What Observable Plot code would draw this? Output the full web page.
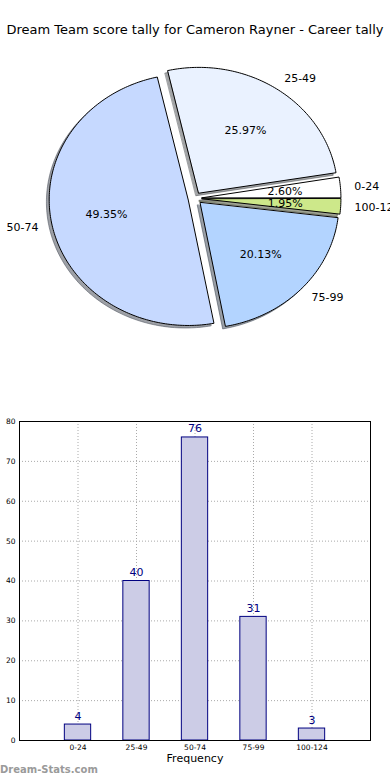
<!DOCTYPE html>
<html>
<head>
<meta charset="utf-8">
<script src="https://cdn.jsdelivr.net/npm/d3@7"></script>
<script src="https://cdn.jsdelivr.net/npm/@observablehq/plot@0.6"></script>
<style>
  html, body { margin: 0; padding: 0; background: #fff; overflow: hidden; }
  #wrap { position: relative; width: 390px; height: 780px; font-family: "DejaVu Sans", sans-serif; }
  #title { position: absolute; left: 0; top: 22px; width: 390px; text-align: center; font-size: 13px; line-height: 16px; color: #000; white-space: nowrap; }
  #pie { position: absolute; left: 0; top: 50px; }
  #bar { position: absolute; left: 0; top: 400px; }
  #mark { position: absolute; left: 0; top: 763px; font-size: 10px; font-weight: bold; color: #9a9a9a; line-height: 14px; }
  svg { overflow: hidden; }
</style>
</head>
<body>
<div id="wrap">
  <div id="title">Dream Team score tally for Cameron Rayner - Career tally</div>
  <div id="pie"></div>
  <div id="bar"></div>
  <div id="mark">Dream-Stats.com</div>
</div>
<script>
const categories = ["0-24", "25-49", "50-74", "75-99", "100-124"];
const counts = [4, 40, 76, 31, 3];
const sliceColors = ["#ffffff", "#eaf2ff", "#c6d9ff", "#b3d4ff", "#cde88a"];
const explode = [0.05, 0.05, 0.05, 0.05, 0.05];
const yTicks = [0, 10, 20, 30, 40, 50, 60, 70, 80];

// ---- pie geometry (unit circle, angles counter-clockwise from 3 o'clock) ----
const total = d3.sum(counts);
let start = 0;
const slices = categories.map((c, i) => {
  const a1 = start, a2 = start + counts[i] / total * 360;
  start = a2;
  const mid = (a1 + a2) / 2 * Math.PI / 180;
  const ox = explode[i] * Math.cos(mid), oy = explode[i] * Math.sin(mid);
  const col = d3.rgb(sliceColors[i]);
  const shadow = `rgb(${Math.round(col.r * 0.3)},${Math.round(col.g * 0.3)},${Math.round(col.b * 0.3)})`;
  return {c, i, a1, a2, mid, ox, oy, color: sliceColors[i], shadow,
    pct: (counts[i] / total * 100).toFixed(2) + "%",
    lx: ox + 1.1 * Math.cos(mid), ly: oy + 1.1 * Math.sin(mid),
    px: ox + 0.6 * Math.cos(mid), py: oy + 0.6 * Math.sin(mid)};
});
function wedge(s, dx, dy) {
  const pts = [{slice: s.c, x: s.ox + dx, y: s.oy + dy, color: s.color, shadow: s.shadow}];
  const n = Math.max(4, Math.ceil((s.a2 - s.a1) / 1));
  for (let k = 0; k <= n; k++) {
    const a = (s.a1 + (s.a2 - s.a1) * k / n) * Math.PI / 180;
    pts.push({slice: s.c, x: s.ox + dx + Math.cos(a), y: s.oy + dy + Math.sin(a), color: s.color, shadow: s.shadow});
  }
  return pts;
}
const wedgePts = slices.flatMap(s => wedge(s, 0, 0));
const shadowPts = slices.flatMap(s => wedge(s, -0.02, -0.02));

const pie = Plot.plot({
  width: 390, height: 350,
  margin: 0,
  x: {domain: [-194.5 / 139, (390 - 194.5) / 139], axis: null},
  y: {domain: [-(350 - 147.9) / 125.8, 147.9 / 125.8], axis: null},
  color: {type: "identity"},
  style: {fontFamily: "DejaVu Sans, sans-serif", background: "transparent"},
  marks: [
    Plot.line(shadowPts, {x: "x", y: "y", z: "slice", fill: "shadow", stroke: "shadow", fillOpacity: 0.5, strokeOpacity: 0.5, strokeWidth: 1, curve: "linear-closed"}),
    Plot.line(wedgePts, {x: "x", y: "y", z: "slice", fill: "color", stroke: "black", strokeWidth: 1, curve: "linear-closed"}),
    Plot.text(slices, {x: "px", y: "py", text: "pct", fontSize: 11, fill: "black"}),
    Plot.text(slices.filter(s => Math.cos(s.mid) > 0), {x: "lx", y: "ly", text: "c", textAnchor: "start", fontSize: 11, fill: "black"}),
    Plot.text(slices.filter(s => Math.cos(s.mid) <= 0), {x: "lx", y: "ly", text: "c", textAnchor: "end", fontSize: 11, fill: "black"})
  ]
});
document.getElementById("pie").appendChild(pie);

// ---- bar chart ----
const bars = categories.map((c, i) => ({c, i, count: counts[i], x1: i - 0.225, x2: i + 0.225}));
const bar = Plot.plot({
  width: 390, height: 380,
  marginLeft: 19, marginRight: 20, marginTop: 21, marginBottom: 40,
  x: {domain: [-1, 5]},
  y: {domain: [0, 80]},
  style: {fontFamily: "DejaVu Sans, sans-serif", background: "transparent"},
  marks: [
    Plot.gridX(d3.range(categories.length), {stroke: "#aaaaaa", strokeOpacity: 1, strokeDasharray: "1,2", strokeWidth: 1}),
    Plot.gridY(yTicks, {stroke: "#aaaaaa", strokeOpacity: 1, strokeDasharray: "1,2", strokeWidth: 1}),
    Plot.rect(bars, {x1: "x1", x2: "x2", y1: 0, y2: "count", fill: "#ccccE6", stroke: "#000080", strokeWidth: 1}),
    Plot.text(bars, {x: "i", y: "count", text: d => String(d.count), lineAnchor: "bottom", dy: -5, fill: "#000080", fontSize: 11}),
    Plot.frame({stroke: "black", strokeWidth: 1}),
    Plot.axisX(d3.range(categories.length), {tickFormat: i => categories[i], tickSize: 0, tickPadding: 4, fontSize: 7.5, label: null}),
    Plot.axisY(yTicks, {tickSize: 0, tickPadding: 4, fontSize: 7.5, label: null}),
    Plot.text(["Frequency"], {frameAnchor: "bottom", dy: 21, fontSize: 11, fill: "black"})
  ]
});
document.getElementById("bar").appendChild(bar);
</script>
</body>
</html>
